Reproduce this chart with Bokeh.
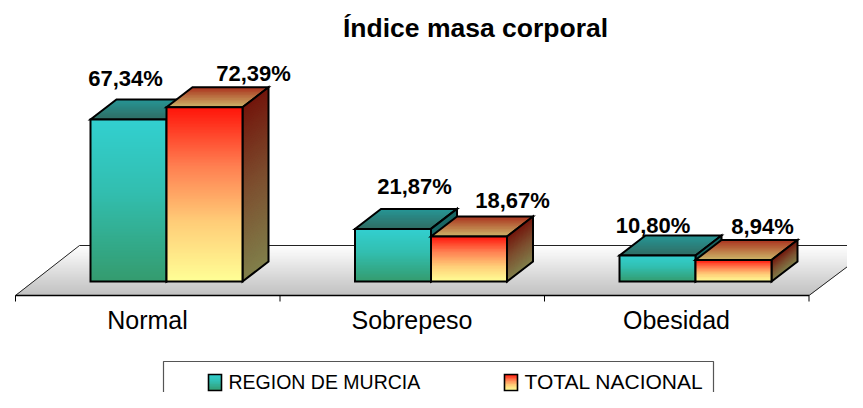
from bokeh.plotting import figure
from bokeh.embed import file_html
from bokeh.resources import INLINE
from bokeh.core.properties import value

# ---- data
categories = ["Normal", "Sobrepeso", "Obesidad"]
region = [67.34, 21.87, 10.80]
nacional = [72.39, 18.67, 8.94]
region_labels = ["67,34%", "21,87%", "10,80%"]
nacional_labels = ["72,39%", "18,67%", "8,94%"]
series_names = ["REGION DE MURCIA", "TOTAL NACIONAL"]
title_text = "Índice masa corporal"

# ---- geometry of the drawing (pixel scale factors)
W, H = 847, 392
PX_X = 264.5       # px per category
PX_Y = 2.406       # px per percent
ORIGIN_X, ORIGIN_Y = 166, 281   # category 0 / value 0 in frame px


def X(px):
    return (px - ORIGIN_X) / PX_X


def Y(px):
    return (ORIGIN_Y - px) / PX_Y


BAR_W = 76 / PX_X
DX, DY = 26 / PX_X, 20 / PX_Y

p = figure(width=W, height=H, output_backend="svg", toolbar_location=None,
           x_range=(-ORIGIN_X / PX_X, (W - ORIGIN_X) / PX_X),
           y_range=((ORIGIN_Y - H) / PX_Y, ORIGIN_Y / PX_Y),
           min_border=0, outline_line_color=None, background_fill_color="white")
p.axis.visible = False
p.grid.visible = False


def hexc(c):
    return "#%02x%02x%02x" % tuple(int(round(v)) for v in c)


def ramp(stops, t):
    for (t0, c0), (t1, c1) in zip(stops, stops[1:]):
        if t <= t1:
            f = (t - t0) / (t1 - t0) if t1 > t0 else 0
            return [a + (b - a) * f for a, b in zip(c0, c1)]
    return stops[-1][1]


def grad_quad(tl, tr, br, bl, stops, px_h):
    """Vertical gradient over a quad: each strip runs to the quad's bottom, painted top-down, so no seams."""
    n = max(2, int(px_h / 1.5))
    xs, ys, cs = [], [], []
    for i in range(n):
        a = i / n
        b = (i + 1) / n
        lerp = lambda p0, p1, t: (p0[0] + (p1[0] - p0[0]) * t, p0[1] + (p1[1] - p0[1]) * t)
        q = [lerp(tl, bl, a), lerp(tr, br, a), br, bl]
        xs.append([pt[0] for pt in q])
        ys.append([pt[1] for pt in q])
        cs.append(hexc(ramp(stops, (a + b) / 2)))
    p.patches(xs, ys, fill_color=cs, line_color=None)


def outline(pts, width=2.0):
    p.patch([q[0] for q in pts], [q[1] for q in pts], fill_color=None,
            line_color="black", line_width=width, line_join="miter")


FRONT = [
    [(0, (50, 208, 208)), (0.45, (50, 190, 175)), (1, (52, 155, 110))],
    [(0, (255, 20, 10)), (0.33, (255, 125, 80)), (0.66, (255, 205, 120)), (1, (255, 255, 150))],
]
TOP = [
    [(0, (38, 150, 150)), (1, (48, 108, 98))],
    [(0, (170, 50, 30)), (1, (205, 182, 105))],
]
SIDE = [
    [(0, (25, 105, 105)), (1, (26, 78, 55))],
    [(0, (115, 22, 12)), (0.5, (125, 80, 48)), (1, (128, 128, 75))],
]


def bar(cx, v, k):
    x0 = cx - BAR_W if k == 0 else cx
    x1 = x0 + BAR_W
    grad_quad((x0 + DX, v + DY), (x1 + DX, v + DY), (x1, v), (x0, v), TOP[k], 20)
    outline([(x0, v), (x1, v), (x1 + DX, v + DY), (x0 + DX, v + DY)])
    grad_quad((x1, v), (x1 + DX, v + DY), (x1 + DX, DY), (x1, 0), SIDE[k], v * PX_Y + 20)
    outline([(x1, v), (x1 + DX, v + DY), (x1 + DX, DY), (x1, 0)])
    grad_quad((x0, v), (x1, v), (x1, 0), (x0, 0), FRONT[k], v * PX_Y)
    outline([(x0, v), (x1, v), (x1, 0), (x0, 0)])


# ---- floor
fl, fr, bl_, br_ = X(15), X(808.5), X(79), X(875)
fy, by = Y(295), Y(245)
grad_quad((bl_, by), (br_, by), (fr, fy), (fl, fy),
          [(0, (255, 255, 255)), (1, (192, 192, 192))], 50)
p.line([fl, bl_, br_], [fy, by, by], line_color="#222222", line_width=1)
p.line([fr, br_], [fy, by], line_color="#222222", line_width=1)
p.line([fl, fr], [fy, fy], line_color="black", line_width=1.4)
tick_x = [X(15) + (X(808.5) - X(15)) * i / 3 for i in range(4)]
for t in tick_x:
    p.line([t, t], [fy, Y(301)], line_color="black", line_width=1)

# ---- bars
for i in range(3):
    bar(i, region[i], 0)
    bar(i, nacional[i], 1)

FONT = value("Liberation Sans")


def label(x, y, s, size, bold=False, align="center"):
    p.text([x], [y], text=[s], text_font=FONT, text_font_size=size,
           text_font_style="bold" if bold else "normal", text_align=align,
           text_baseline="middle", text_color="black")


# ---- value labels
reg_px = [(125, 78), (414, 186), (652.5, 225)]
nac_px = [(253, 73), (512, 200), (762, 226)]
for i in range(3):
    label(X(reg_px[i][0]), Y(reg_px[i][1]), region_labels[i], "22px", True)
    label(X(nac_px[i][0]), Y(nac_px[i][1]), nacional_labels[i], "22px", True)

# ---- title and categories
label(X(475), Y(27), title_text, "26.5px", True)
for i, c in enumerate(categories):
    label(X(147 + 264.5 * i), Y(319), c, "25px")

# ---- legend
lx0, lx1, ly0, ly1 = X(163), X(713), Y(361), Y(412)
p.line([lx0, lx0, lx1, lx1], [ly1, ly0, ly0, ly1], line_color="#555555", line_width=1.2)
for k, (sx, tx, fs) in enumerate([(208, 228, "19.5px"), (504, 524, "21px")]):
    q = (X(sx), Y(374)), (X(sx + 13), Y(374)), (X(sx + 13), Y(390)), (X(sx), Y(390))
    grad_quad(q[0], q[1], q[2], q[3], FRONT[k], 16)
    outline(list(q), 1.6)
    label(X(tx), Y(381), series_names[k], fs, align="left")

open("out.html", "w").write(file_html(p, INLINE))
